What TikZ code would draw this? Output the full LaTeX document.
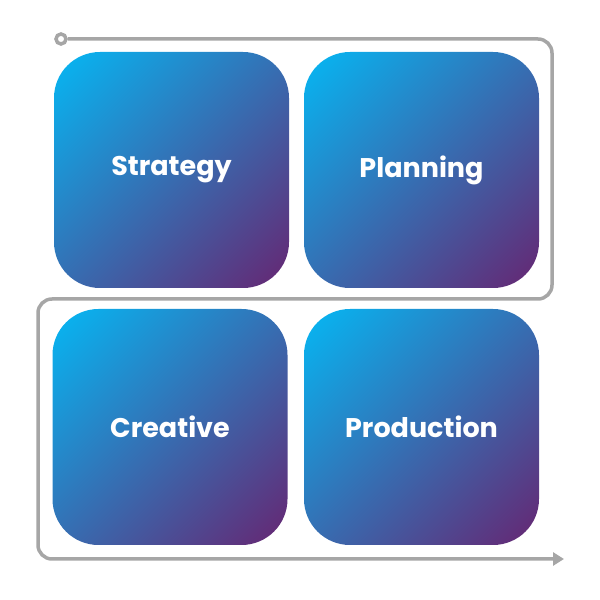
\documentclass[tikz,border=0pt]{standalone}
\usepackage{fontspec}
\setmainfont{Poppins}
\usepackage{xcolor}
\usepackage{tikz}
\usetikzlibrary{positioning,calc,arrows.meta}
\definecolor{tilecyan}{HTML}{04B9F5}
\definecolor{tilepurple}{HTML}{662672}
\definecolor{flowgray}{HTML}{A6A6A6}
\pgfdeclareverticalshading{tileshade}{100bp}{color(0bp)=(tilepurple); color(15bp)=(tilepurple);
  color(86bp)=(tilecyan); color(100bp)=(tilecyan)}

\begin{document}
\begin{tikzpicture}[x=1pt,y=1pt,
                tile node/.style={rectangle,rounded corners=46pt,minimum width=235pt,minimum height=236pt,
                  inner sep=0pt,shading=tileshade,shading angle=45,
                  text=white,font=\fontsize{27}{31}\selectfont\bfseries},
                flow line/.style={draw=flowgray,line width=3.5pt}]
\useasboundingbox (0,0) rectangle (600,600);
%Nodes
    \node[tile node] (S) at (171.5,430) {\raisebox{-2pt}{Strategy}};
    \node[tile node] (P) at (421.5,430) {\raisebox{-2pt}{Planning}};
    \node[tile node] (C) at (170,173) {\raisebox{-2pt}{Creative}};
    \node[tile node] (Pr) at (421.5,173) {\raisebox{-2pt}{Production}};
    \node[flow line,circle,fill=white,minimum size=10pt,inner sep=0pt] (start) at (61,561) {};
    \coordinate (end) at (564,41);
%Lines
    \draw[flow line,rounded corners=14pt,-{Triangle[length=11pt,width=13pt]}]
        (start) -- (552,561) -- (552,301) -- (38,301) -- (38,41) -- (end);
\end{tikzpicture}
\end{document}
